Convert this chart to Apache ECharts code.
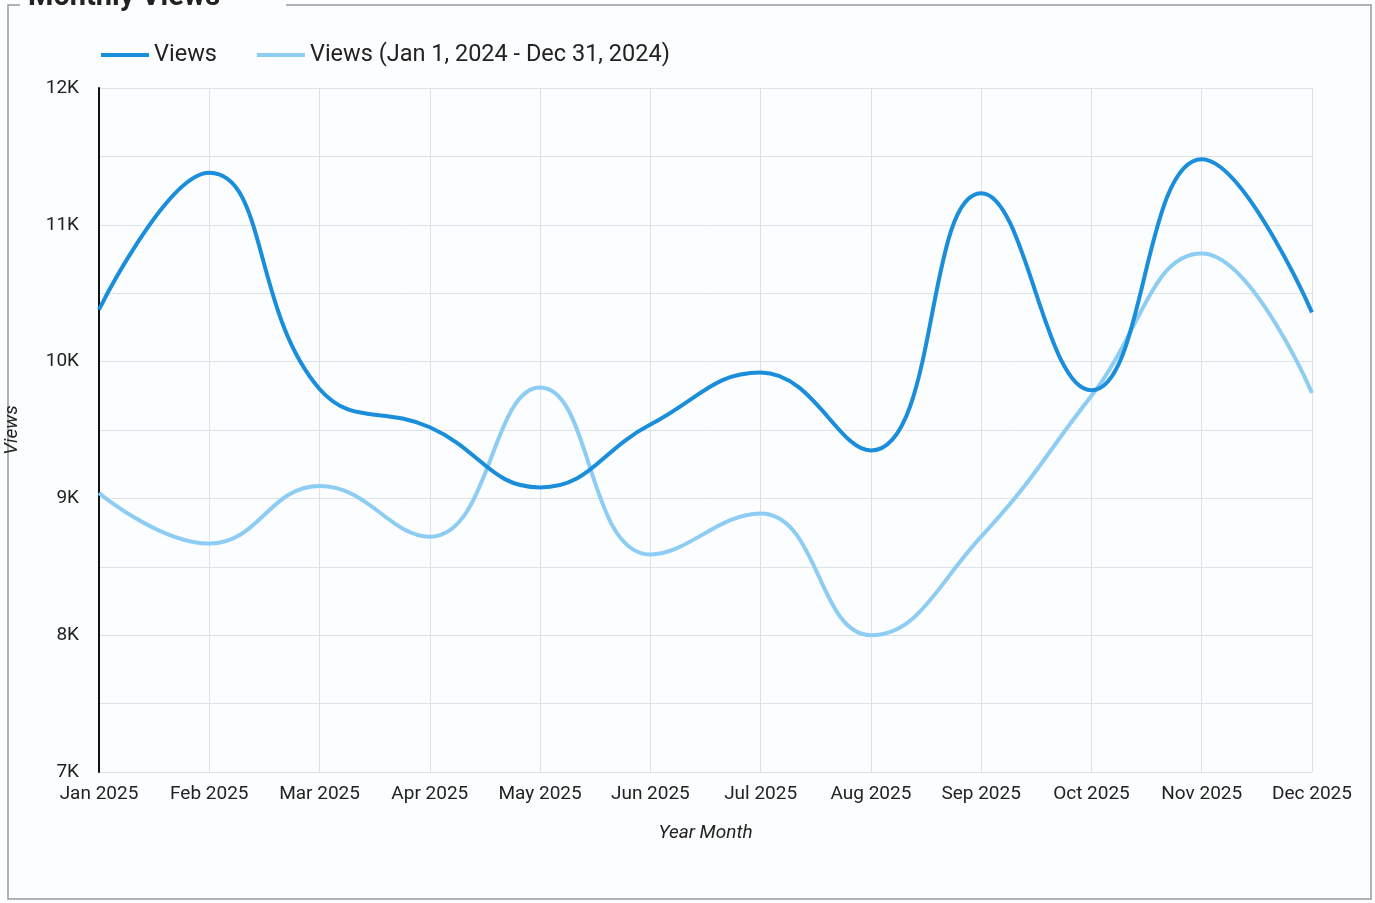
<!DOCTYPE html>
<html>
<head>
<meta charset="utf-8">
<title>Monthly Views</title>
<script src="https://cdn.jsdelivr.net/npm/echarts@6/dist/echarts.min.js"></script>
<style>
  html, body { margin: 0; padding: 0; background: #fbfdff; }
  #chart { width: 1375px; height: 903px; }
</style>
</head>
<body>
<div id="chart"></div>
<script>
// months on the x axis
const months = ["Jan 2025", "Feb 2025", "Mar 2025", "Apr 2025", "May 2025", "Jun 2025",
  "Jul 2025", "Aug 2025", "Sep 2025", "Oct 2025", "Nov 2025", "Dec 2025"];
// current year
const views = [10380, 11380, 9800, 9520, 9080, 9540, 9920, 9350, 11230, 9790, 11480, 10360];
// previous period (2024)
const viewsPrev = [9040, 8670, 9090, 8720, 9810, 8590, 8890, 8000, 8720, 9750, 10790, 9770];

const chart = echarts.init(document.getElementById("chart"));
const font = "Roboto, 'Open Sans', sans-serif";

chart.setOption({
  textStyle: { fontFamily: font },
  animation: false,
  graphic: [
    {
      type: "rect",
      shape: { x: 8, y: 5, width: 1363, height: 894 },
      style: { fill: "none", stroke: "#9a9a9a", lineWidth: 1.5 },
      silent: true
    },
    {
      type: "rect",
      shape: { x: 20, y: 0, width: 266, height: 12 },
      style: { fill: "#fbfdff" },
      silent: true
    },
    {
      type: "text",
      left: 28,
      top: -17,
      style: { text: "Monthly Views", font: "bold 29px " + font, fill: "#222" },
      silent: true
    }
  ],
  legend: {
    left: 96,
    top: 38,
    icon: "rect",
    itemWidth: 48,
    itemHeight: 4,
    itemGap: 40,
    textStyle: { fontSize: 23.5, color: "#222", fontFamily: font },
    data: ["Views", "Views (Jan 1, 2024 - Dec 31, 2024)"]
  },
  grid: { left: 99, right: 63, top: 88, bottom: 131, outerBoundsMode: "none", containLabel: false },
  xAxis: {
    type: "category",
    data: months,
    boundaryGap: false,
    name: "Year Month",
    nameLocation: "middle",
    nameGap: 52,
    nameTextStyle: { fontSize: 19, fontStyle: "italic", color: "#222" },
    axisLine: { show: false },
    axisTick: { show: false },
    axisLabel: { fontSize: 19, color: "#222", margin: 13 },
    splitLine: { show: true, lineStyle: { color: "#dde1e8", width: 1 } }
  },
  yAxis: {
    type: "value",
    min: 7000,
    max: 12000,
    interval: 1000,
    name: "Views",
    nameLocation: "middle",
    nameGap: 77,
    nameTextStyle: { fontSize: 19, fontStyle: "italic", color: "#222" },
    axisLine: { show: true, lineStyle: { color: "#111", width: 2 } },
    axisTick: { show: false },
    axisLabel: {
      fontSize: 19,
      color: "#222",
      margin: 20,
      formatter: v => v / 1000 + "K"
    },
    splitLine: { show: true, lineStyle: { color: "#dde1e8", width: 1 } },
    minorSplitLine: { show: true, lineStyle: { color: "#dde1e8", width: 1 } },
    minorTick: { show: false, splitNumber: 2 }
  },
  series: [
    {
      name: "Views",
      type: "line",
      data: views,
      smooth: 0.45,
      symbol: "none",
      z: 3,
      lineStyle: { color: "#1a8ddb", width: 4 },
      itemStyle: { color: "#1a8ddb" }
    },
    {
      name: "Views (Jan 1, 2024 - Dec 31, 2024)",
      type: "line",
      data: viewsPrev,
      smooth: 0.45,
      symbol: "none",
      z: 2,
      lineStyle: { color: "#8dcdf4", width: 4 },
      itemStyle: { color: "#8dcdf4" }
    }
  ]
});
</script>
</body>
</html>
